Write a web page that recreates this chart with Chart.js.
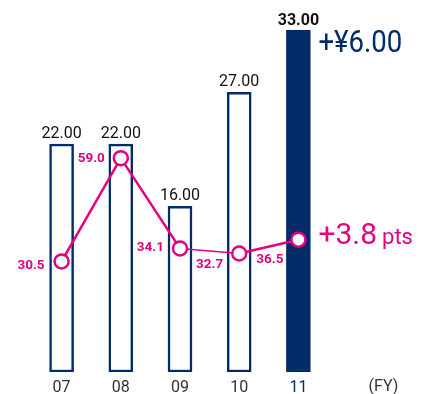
<!DOCTYPE html>
<html>
<head>
<meta charset="utf-8">
<script src="https://cdn.jsdelivr.net/npm/chart.js@4.4.0/dist/chart.umd.min.js"></script>
<style>
  html, body { margin: 0; padding: 0; background: #fff; }
  #wrap { width: 422px; height: 394px; }
</style>
</head>
<body>
<div id="wrap"><canvas id="myChart" width="422" height="394"></canvas></div>
<script>
// data
const years = ['07', '08', '09', '10', '11'];
const dividends = [22, 22, 16, 27, 33];
const dividendLabels = ['22.00', '22.00', '16.00', '27.00', '33.00'];
const payoutRatio = [30.5, 59.0, 34.1, 32.7, 36.5];
const payoutLabels = ['30.5', '59.0', '34.1', '32.7', '36.5'];

const navy = '#022b68';
const magenta = '#e4007f';
const font = 'Roboto, "Liberation Sans", sans-serif';

// where the ratio labels sit next to their points
const ratioShift = [[-17, 4], [-16, 0], [-16, -1], [-16, 11], [-15, 20]];

const labelPlugin = {
    id: 'labels',
    afterDatasetsDraw(chart) {
        const ctx = chart.ctx;
        const bars = chart.getDatasetMeta(1).data;
        const pts = chart.getDatasetMeta(0).data;
        ctx.save();

        // bar values
        ctx.textAlign = 'center';
        ctx.textBaseline = 'alphabetic';
        bars.forEach((b, i) => {
            const last = i === bars.length - 1;
            ctx.font = (last ? 'bold ' : '') + '16px ' + font;
            ctx.fillStyle = '#111';
            ctx.fillText(dividendLabels[i], b.x, b.y - (last ? 5 : 6));
        });

        // ratio values
        ctx.textAlign = 'right';
        ctx.textBaseline = 'middle';
        ctx.font = 'bold 13.5px ' + font;
        ctx.fillStyle = magenta;
        pts.forEach((p, i) => {
            ctx.fillText(payoutLabels[i], p.x + ratioShift[i][0], p.y + ratioShift[i][1]);
        });

        // callouts on the last year
        const lb = bars[bars.length - 1];
        const lp = pts[pts.length - 1];
        ctx.textAlign = 'left';
        ctx.textBaseline = 'alphabetic';
        ctx.fillStyle = navy;
        ctx.font = '32px ' + font;
        ctx.save();
        ctx.translate(lb.x + 20, lb.y + 22);
        ctx.scale(0.86, 1);
        ctx.fillText('+\u00a56.00', 0, 0);
        ctx.restore();

        ctx.fillStyle = magenta;
        ctx.font = '30px ' + font;
        ctx.fillText('+3.8', lp.x + 20, lp.y + 4);
        const w = ctx.measureText('+3.8').width;
        ctx.font = '22px ' + font;
        ctx.fillText('pts', lp.x + 20 + w + 5, lp.y + 4);

        // (FY)
        ctx.textAlign = 'center';
        ctx.textBaseline = 'middle';
        ctx.fillStyle = '#333';
        ctx.font = '16px ' + font;
        ctx.fillText('(FY)', lb.x + 85, chart.chartArea.bottom + 15);

        ctx.restore();
    }
};

const ctx = document.getElementById('myChart').getContext('2d');
new Chart(ctx, {
    type: 'bar',
    data: {
        labels: years,
        datasets: [
            {
                type: 'line',
                label: 'Payout ratio',
                data: payoutRatio,
                yAxisID: 'y2',
                order: 0,
                borderColor: magenta,
                borderWidth: 2.5,
                pointRadius: 7,
                pointBorderWidth: 2.5,
                pointBackgroundColor: '#fff',
                pointBorderColor: magenta,
                tension: 0,
                segment: {
                    borderWidth: c => c.p0DataIndex === 2 ? 1.5 : 2.5
                }
            },
            {
                label: 'Dividend',
                data: dividends,
                yAxisID: 'y',
                order: 1,
                barThickness: 24,
                borderWidth: 2.5,
                borderSkipped: false,
                borderColor: navy,
                backgroundColor: dividends.map((_, i) => i === dividends.length - 1 ? navy : '#fff')
            }
        ]
    },
    options: {
        responsive: false,
        animation: false,
        layout: {
            padding: { left: 32, right: 94, top: 9, bottom: 0 }
        },
        plugins: {
            legend: { display: false },
            tooltip: { enabled: false }
        },
        scales: {
            x: {
                grid: { display: false, drawTicks: false },
                border: { display: false },
                ticks: {
                    padding: 6,
                    color: c => c.index === years.length - 1 ? navy : '#333',
                    font: { family: font, size: 16 }
                },
                afterFit: s => { s.height = 22; }
            },
            y: { display: false, min: 0, max: 35 },
            y2: { display: false, min: 0, max: 100 }
        }
    },
    plugins: [labelPlugin]
});
</script>
</body>
</html>
